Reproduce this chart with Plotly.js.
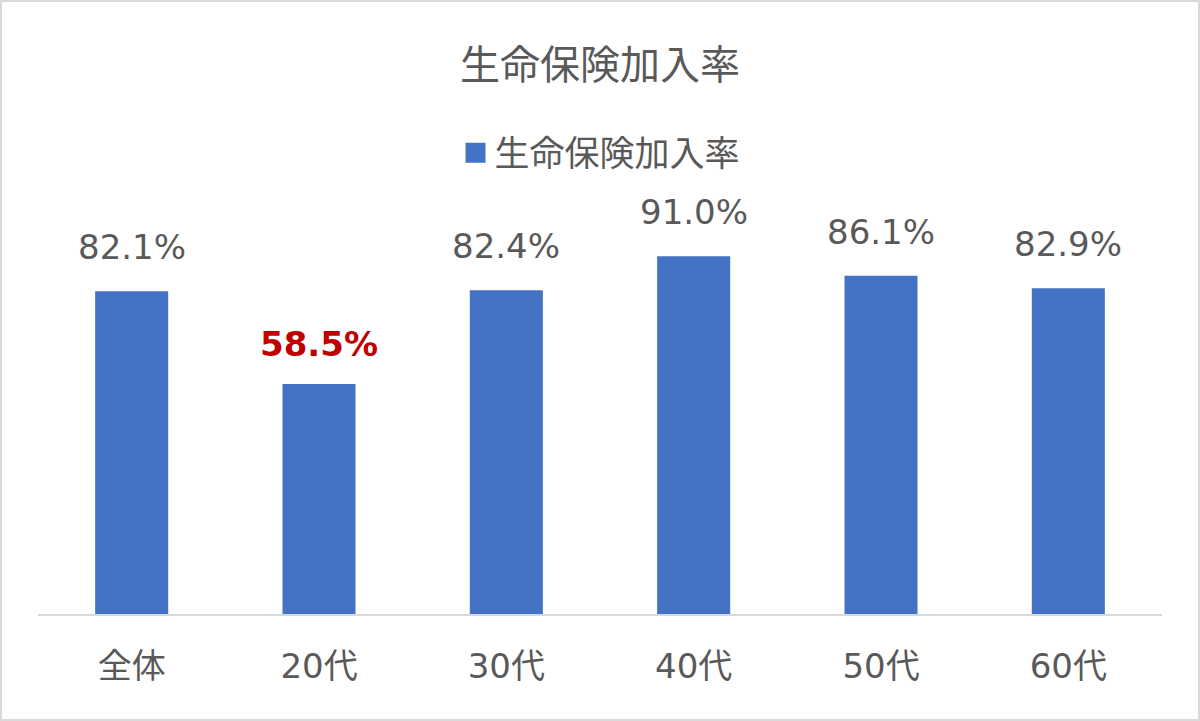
<!DOCTYPE html>
<html><head><meta charset="utf-8">
<script src="https://cdn.plot.ly/plotly-3.0.1.min.js"></script>
<style>html,body{margin:0;padding:0;background:#fff}#frame{position:fixed;left:0;top:0;width:1200px;height:721px;box-sizing:border-box;border:2px solid #d9d9d9;pointer-events:none}</style>
</head><body>
<div id="chart" style="width:1200px;height:721px"></div>
<div id="frame"></div>
<script>
const categories = ['全体','20代','30代','40代','50代','60代'];
const values = [82.1, 58.5, 82.4, 91.0, 86.1, 82.9];
const labels = ['82.1%','58.5%','82.4%','91.0%','86.1%','82.9%'];
const highlight = [false, true, false, false, false, false];
const seriesName = '生命保険加入率';
const chartTitle = '生命保険加入率';

const FONT = 'DejaVu Sans, "Noto Sans CJK JP", sans-serif';
const GREY = '#595959';

const annotations = categories.map((c,i)=>({
  x: c, y: values[i], xref:'x', yref:'y', text: labels[i], showarrow:false,
  yanchor:'middle', yshift: highlight[i]?40:44,
  font: {family: FONT, size: 34, color: highlight[i]?'#c00000':GREY, weight: highlight[i]?'bold':'normal'}
}));

const trace = {type:'bar', x: categories, y: values, name: seriesName,
  marker:{color:'#4472c4'}, showlegend:true, hoverinfo:'none'};

const layout = {
  width:1200, height:721,
  margin:{l:38, r:38, t:221, b:107},
  paper_bgcolor:'#fff', plot_bgcolor:'#fff',
  bargap:0.61,
  title:{text: chartTitle, x:0.5, xanchor:'center', y:1-65/721, yanchor:'middle', font:{family:FONT, size:40, color:GREY}},
  showlegend:true,
  legend:{orientation:'h', x:0.5, xanchor:'center', y:(614-153)/393, yanchor:'middle', font:{family:FONT, size:35, color:GREY}, itemwidth:30},
  xaxis:{showline:true, linecolor:'#d9d9d9', linewidth:1.5, ticks:'', tickfont:{family:FONT, size:34, color:GREY}, ticklabelstandoff:22, fixedrange:true},
  yaxis:{range:[0,100], showgrid:false, zeroline:false, showticklabels:false, ticks:'', fixedrange:true},
  annotations: annotations
};
Plotly.newPlot('chart', [trace], layout, {displayModeBar:false, staticPlot:true}).then(()=>{
  const txt = document.querySelector('.legendtext');
  document.querySelectorAll('.legendpoints path').forEach(p=>{
    const tb = txt.getBBox();
    // square of 20px ending 9px before legend text
    const right = tb.x - 9, left = right - 20;
    p.setAttribute('d', `M${left},-10H${right}V10H${left}Z`);
    p.removeAttribute('transform');
    p.style.strokeWidth = '0';
  });
});
</script>
</body></html>
